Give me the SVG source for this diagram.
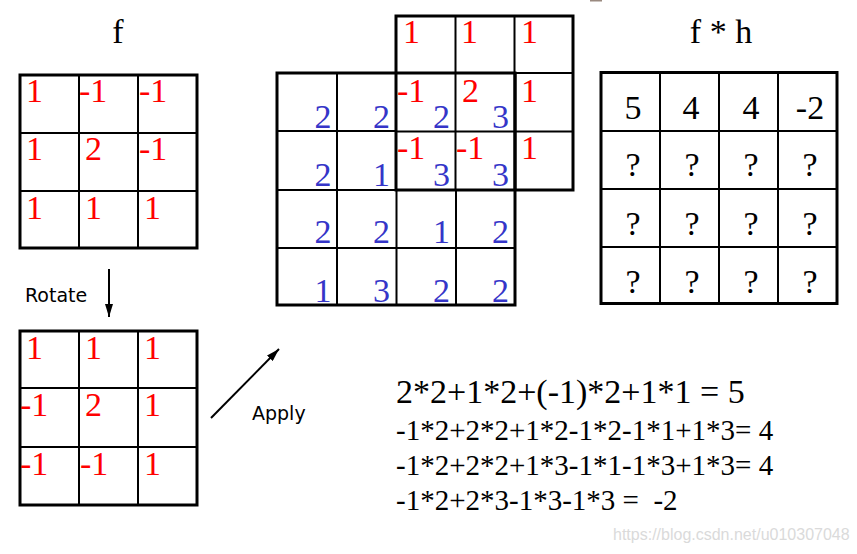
<svg xmlns="http://www.w3.org/2000/svg" width="857" height="554" viewBox="0 0 857 554">
<style>
.thick{fill:none;stroke:#000;stroke-width:3}
.thin{fill:none;stroke:#000;stroke-width:2}
.t{font-family:"Liberation Serif","Times New Roman",serif;font-size:34px}
.r{fill:#ff0000}
.b{fill:#3535c8;text-anchor:end}
.k{fill:#000}
.c{text-anchor:middle}
.s{font-family:"DejaVu Sans",Verdana,sans-serif;font-size:19px;fill:#000}
.eq{font-family:"Liberation Serif","Times New Roman",serif;font-size:29px;fill:#000;white-space:pre}
.wm{font-family:"Liberation Sans",Arial,sans-serif;font-size:16px;fill:#dadada}
</style>
<defs>
<marker id="ah" markerUnits="userSpaceOnUse" markerWidth="13" markerHeight="8" refX="13" refY="4" orient="auto">
<path d="M0,0 L13,4 L0,8 z" fill="#000"/>
</marker>
</defs>
<rect width="857" height="554" fill="#fff"/>
<rect x="590" y="0" width="12" height="1.5" fill="#9a8a80"/>

<g id="f-title"><text class="t k c" x="118" y="43">f</text></g>

<g id="grid-f">
<path class="thin" d="M79,75 V248 M138,75 V248 M20,133 H197 M20,191 H197"/>
<rect class="thick" x="20" y="75" width="177" height="173"/>
<g class="t r">
<text x="26" y="102">1</text><text x="79" y="102">-1</text><text x="139" y="102">-1</text>
<text x="26" y="160">1</text><text x="85" y="160">2</text><text x="139" y="160">-1</text>
<text x="26" y="219">1</text><text x="85" y="219">1</text><text x="144" y="219">1</text>
</g>
</g>

<g id="rotate-label"><text class="s" x="25" y="302">Rotate</text></g>

<g id="grid-rotated">
<path class="thin" d="M79,331 V505 M138,331 V505 M20,388 H197 M20,447 H197"/>
<rect class="thick" x="20" y="331" width="177" height="174"/>
<g class="t r">
<text x="26" y="359">1</text><text x="85" y="359">1</text><text x="144" y="359">1</text>
<text x="20" y="416">-1</text><text x="85" y="416">2</text><text x="144" y="416">1</text>
<text x="20" y="475">-1</text><text x="80" y="475">-1</text><text x="144" y="475">1</text>
</g>
</g>

<g id="apply-label"><text class="s" x="252" y="420">Apply</text></g>

<g id="grid-image">
<path class="thin" d="M337,73 V305 M396.5,190 V305 M456,190 V305 M277,131 H396 M277,190 H396 M277,248 H515"/>
<rect class="thick" x="277" y="73" width="238" height="232"/>
<g class="t b">
<text x="331.5" y="128">2</text><text x="390" y="128">2</text><text x="450" y="128">2</text><text x="509" y="128">3</text>
<text x="331.5" y="186">2</text><text x="390" y="186">1</text><text x="450" y="186">3</text><text x="509" y="186">3</text>
<text x="331.5" y="243">2</text><text x="390" y="243">2</text><text x="450" y="243">1</text><text x="509" y="243">2</text>
<text x="331.5" y="302">1</text><text x="390" y="302">3</text><text x="450" y="302">2</text><text x="509" y="302">2</text>
</g>
</g>

<g id="grid-kernel">
<path class="thin" d="M455.5,16 V190 M514.5,16 V73 M396,73 H573 M396,131.5 H573"/>
<path class="thick" d="M515,73 V190"/>
<rect class="thick" x="396" y="16" width="177" height="174"/>
<g class="t r">
<text x="403" y="43">1</text><text x="461" y="43">1</text><text x="521" y="43">1</text>
<text x="397" y="102">-1</text><text x="462" y="102">2</text><text x="521" y="102">1</text>
<text x="397" y="159">-1</text><text x="456" y="159">-1</text><text x="521" y="159">1</text>
</g>
</g>

<g id="fh-title"><text class="t k c" x="721" y="43">f * h</text></g>

<g id="grid-result">
<path class="thin" d="M660,72 V304 M719,72 V304 M778,72 V304 M601,131 H837 M601,189 H837 M601,247 H837"/>
<rect class="thick" x="601" y="72.5" width="236" height="231"/>
<g class="t k c">
<text x="633" y="119">5</text><text x="691" y="119">4</text><text x="751" y="119">4</text><text x="810" y="119">-2</text>
<text x="633" y="176">?</text><text x="692" y="176">?</text><text x="751" y="176">?</text><text x="810" y="176">?</text>
<text x="633" y="235">?</text><text x="692" y="235">?</text><text x="751" y="235">?</text><text x="810" y="235">?</text>
<text x="633" y="293">?</text><text x="692" y="293">?</text><text x="751" y="293">?</text><text x="810" y="293">?</text>
</g>
</g>

<g id="equations">
<text class="t k" x="396" y="403">2*2+1*2+(-1)*2+1*1 = 5</text>
<text class="eq" x="396" y="440">-1*2+2*2+1*2-1*2-1*1+1*3= 4</text>
<text class="eq" x="396" y="475">-1*2+2*2+1*3-1*1-1*3+1*3= 4</text>
<text class="eq" x="396" y="510" xml:space="preserve">-1*2+2*3-1*3-1*3 =  -2</text>
</g>

<g id="connectors">
<line x1="109" y1="269" x2="109" y2="317" stroke="#000" stroke-width="2" marker-end="url(#ah)"/>
<line x1="211" y1="418" x2="279" y2="349" stroke="#000" stroke-width="2" marker-end="url(#ah)"/>
</g>

<text class="wm" x="613" y="540">https://blog.csdn.net/u010307048</text>
</svg>
